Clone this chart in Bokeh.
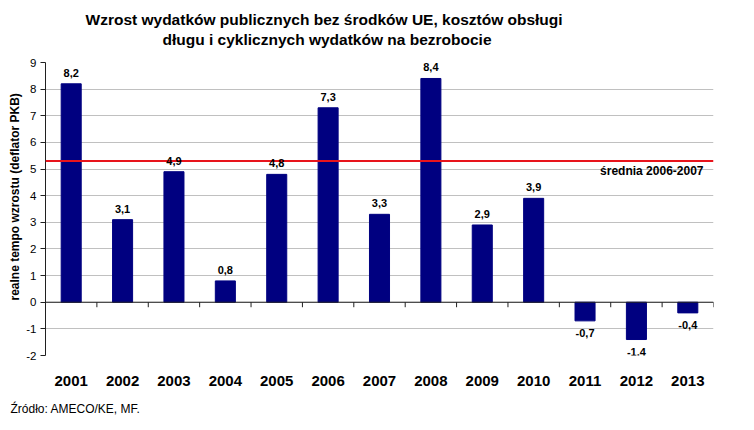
from bokeh.plotting import figure
from bokeh.models import (Title, Label, LabelSet, ColumnDataSource, Span,
                          FixedTicker, Range1d)
from bokeh.core.properties import value
from bokeh.embed import file_html
from bokeh.resources import INLINE

years = ["2001", "2002", "2003", "2004", "2005", "2006", "2007",
         "2008", "2009", "2010", "2011", "2012", "2013"]
values = [8.2, 3.1, 4.9, 0.8, 4.8, 7.3, 3.3, 8.4, 2.9, 3.9, -0.7, -1.4, -0.4]
avg_years = ["2006", "2007"]
y_ticks = list(range(-2, 10))
y_tick_labels = [str(t) for t in y_ticks]

title_line1 = "Wzrost wydatków publicznych bez środków UE, kosztów obsługi"
title_line2 = "długu i cyklicznych wydatków na bezrobocie"
y_label = "realne tempo wzrostu (deflator PKB)"
avg_label = "średnia 2006-2007"
source_text = "Źródło: AMECO/KE, MF."

FONT = "Liberation Sans"

idx = list(range(len(years)))
avg = sum(values[years.index(y)] for y in avg_years) / len(avg_years)
labels = [("%.1f" % v).replace(".", ",") for v in values]

W, H = 754, 430
ML, MR, MT, MB = 45, 41, 62, 75
frame_h = H - MT - MB
x0, x1 = -0.5, len(years) - 0.5
y0, y1 = y_ticks[0], y_ticks[-1]

p = figure(width=W, height=H, output_backend="svg", toolbar_location=None,
           x_range=Range1d(x0, x1), y_range=Range1d(y0, y1),
           min_border_left=ML, min_border_right=MR,
           min_border_top=MT, min_border_bottom=MB)
p.outline_line_color = None
p.background_fill_color = "white"

# titles: p.title is the outermost line, added titles stack from the frame out
p.title.text = title_line1
p.title.text_font = FONT
p.title.text_font_size = "15.5px"
p.title.text_font_style = "bold"
p.title.text_color = "black"
p.title.align = "left"
p.title.offset = 40
p.title.standoff = 0
p.add_layout(Title(text=" ", text_font_size="10px", standoff=1), "above")
p.add_layout(Title(text=title_line2, text_font=FONT, text_font_size="15.5px",
                   text_font_style="bold", text_color="black", align="left",
                   offset=117, standoff=2), "above")

# bars
src = ColumnDataSource(dict(x=idx, top=values))
p.vbar(x="x", top="top", bottom=0, width=0.39, source=src,
       fill_color="#000080", line_color="#000080")

# zero line and category separator ticks
p.add_layout(Span(location=0, dimension="width", line_color="#202020",
                  line_width=1))
px_per_unit = frame_h / (y1 - y0)
sep = [i + 0.5 for i in idx]
p.segment(x0=sep, x1=sep, y0=[0] * len(sep),
          y1=[-5 / px_per_unit] * len(sep), line_color="#202020", line_width=1)

# average line
p.add_layout(Span(location=avg, dimension="width", line_color="#e8141c",
                  line_width=2))
p.add_layout(Label(x=x1, y=avg, text=avg_label,
                   text_font=FONT, text_font_size="12px",
                   text_font_style="bold", text_align="right",
                   text_baseline="top", x_offset=-10, y_offset=-3,
                   text_color="black"))

# value labels
pos = ColumnDataSource(dict(x=[i for i in idx if values[i] >= 0],
                            y=[values[i] for i in idx if values[i] >= 0],
                            t=[labels[i] for i in idx if values[i] >= 0]))
neg = ColumnDataSource(dict(x=[i for i in idx if values[i] < 0],
                            y=[values[i] for i in idx if values[i] < 0],
                            t=[labels[i] for i in idx if values[i] < 0]))
for s, off, base in ((pos, 7, "bottom"), (neg, -8, "top")):
    p.add_layout(LabelSet(x="x", y="y", text="t", source=s, y_offset=off,
                          text_align="center", text_baseline=base,
                          text_font=value(FONT), text_font_size=value("11px"),
                          text_font_style="bold", text_color="black"))

# axes
p.xaxis.ticker = FixedTicker(ticks=idx)
p.xaxis.major_label_overrides = {i: y for i, y in zip(idx, years)}
p.xaxis.axis_line_color = None
p.xaxis.major_tick_line_color = None
p.xaxis.major_tick_out = 0
p.xaxis.major_tick_in = 0
p.xaxis.minor_tick_line_color = None
p.xaxis.major_label_standoff = 20
p.xaxis.major_label_text_font = FONT
p.xaxis.major_label_text_font_size = "15px"
p.xaxis.major_label_text_font_style = "bold"
p.xaxis.major_label_text_color = "black"
p.xgrid.grid_line_color = None

p.yaxis.ticker = FixedTicker(ticks=y_ticks)
p.yaxis.major_label_overrides = {t: l for t, l in zip(y_ticks, y_tick_labels)}
p.yaxis.major_label_text_font = FONT
p.yaxis.major_label_text_font_size = "11.5px"
p.yaxis.major_label_text_color = "black"
p.yaxis.major_label_standoff = 4
p.yaxis.major_tick_in = 0
p.yaxis.major_tick_out = 5
p.yaxis.minor_tick_line_color = None
p.yaxis.axis_line_color = "#202020"
p.yaxis.major_tick_line_color = "#202020"
p.ygrid.grid_line_color = "#c0c0c0"

# y axis title, placed like the original (starts near the zero line)
p.add_layout(Title(text=y_label, text_font=FONT, text_font_size="12px",
                   text_font_style="bold", text_color="black", align="left",
                   offset=55, standoff=3), "left")

# source note
p.add_layout(Title(text=source_text, text_font=FONT, text_font_size="12px",
                   text_font_style="normal", text_color="black", align="left",
                   offset=-35, standoff=22), "below")

open("out.html", "w").write(file_html(p, INLINE))
